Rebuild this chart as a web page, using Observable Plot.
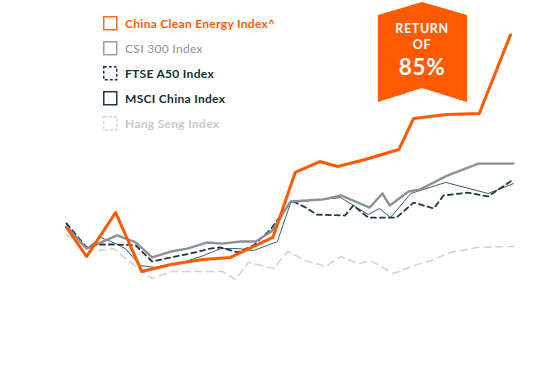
<!DOCTYPE html>
<html>
<head>
<meta charset="utf-8">
<script src="https://cdn.jsdelivr.net/npm/d3@7"></script>
<script src="https://cdn.jsdelivr.net/npm/@observablehq/plot@0.6"></script>
<style>
  html, body { margin: 0; padding: 0; background: #fff; }
  #wrap { position: relative; width: 548px; height: 388px; overflow: hidden; font-family: Lato, "Open Sans", sans-serif; }
  #chart { position: absolute; left: 0; top: 0; }
  #legend { position: absolute; left: 103px; top: 11px; }
  .item { display: flex; align-items: center; height: 25px; font-size: 12px; font-weight: 700; letter-spacing: 0.3px; }
  .sw { display: block; margin-right: 7px; flex: none; }
  #badge { position: absolute; left: 0; top: 0; }
</style>
</head>
<body>
<div id="wrap">
  <div id="chart"></div>
  <div id="legend"></div>
  <svg id="badge" width="548" height="120"></svg>
</div>
<script>
// Series names
const seriesNames = ["China Clean Energy Index^", "CSI 300 Index", "FTSE A50 Index", "MSCI China Index", "Hang Seng Index"];

// China Clean Energy Index^ (time in months, index value)
const cleanT = [0, 2.7, 6.6, 10.1, 14.0, 18.3, 22.0, 27.7, 30.7, 34.0, 36.4, 40.1, 44.6, 46.6, 51.0, 55.4, 59.6];
const cleanV = [100.0, 87.2, 106.6, 80.6, 83.7, 85.9, 86.8, 95.6, 124.3, 129.1, 126.9, 130.0, 134.4, 148.1, 149.9, 150.3, 185.0];

// CSI 300 Index
const csiT = [0, 2.7, 6.8, 9.3, 11.5, 14.0, 16.2, 18.9, 20.9, 23.4, 25.4, 27.5, 30.1, 34.5, 36.9, 40.7, 42.4, 43.4, 45.9, 47.5, 51.1, 55.3, 60];
const csiV = [100.4, 90.7, 96.5, 93.4, 86.8, 89.4, 90.7, 93.4, 92.9, 93.8, 93.8, 98.2, 111.5, 112.4, 114.1, 108.8, 115.0, 109.7, 115.9, 116.8, 122.9, 128.2, 128.2];

// FTSE A50 Index
const ftseT = [0, 2.7, 4.3, 6.8, 9.3, 11.5, 14.0, 16.6, 19.3, 20.7, 23.0, 25.1, 27.4, 30.2, 32.1, 33.6, 37.4, 38.5, 40.5, 44.3, 46.6, 49.3, 50.6, 53.8, 56.6, 60];
const ftseV = [101.8, 91.2, 92.5, 92.5, 92.1, 85.0, 86.8, 88.5, 90.7, 91.2, 89.0, 92.1, 99.1, 111.9, 108.8, 105.7, 105.3, 109.7, 104.4, 104.4, 111.0, 108.4, 114.1, 115.4, 113.7, 121.2];

// MSCI China Index
const msciT = [0, 2.7, 4.6, 6.6, 7.9, 9.9, 11.9, 16.0, 18.4, 20.7, 23.1, 25.1, 28.3, 30.1, 36.8, 40.5, 42.0, 43.5, 46.2, 50.9, 56.6, 60];
const msciV = [101.3, 90.7, 95.6, 92.9, 90.7, 83.2, 82.4, 85.0, 87.6, 90.7, 90.7, 89.8, 93.8, 111.0, 113.2, 105.7, 108.4, 104.4, 115.0, 119.9, 115.0, 119.4];

// Hang Seng Index
const hsT = [0, 2.7, 4.3, 6.3, 9.7, 11.5, 14.0, 20.9, 22.7, 24.4, 27.8, 29.7, 32.1, 34.8, 36.8, 39.2, 40.8, 43.9, 46.6, 48.9, 51.5, 55.2, 60];
const hsV = [96.9, 91.2, 89.9, 90.7, 81.9, 77.5, 80.6, 80.6, 77.1, 84.6, 81.9, 89.4, 85.4, 82.8, 87.2, 84.1, 85.4, 79.7, 83.2, 85.4, 89.0, 91.2, 91.6];

const returnLabel = ["RETURN", "OF", "85%"];

const toRows = (T, V) => T.map((t, i) => ({t, v: V[i]}));

const colors = ["#ff5a00", "#8b9099", "#1b3a40", "#2c4a50", "#d3d3d3"];

const chart = Plot.plot({
  width: 548,
  height: 388,
  marginLeft: 66,
  marginRight: 35,
  marginTop: 23,
  marginBottom: 25,
  x: {domain: [0, 60], axis: null},
  y: {domain: [40, 190], axis: null},
  marks: [
    Plot.line(toRows(hsT, hsV), {x: "t", y: "v", stroke: colors[4], strokeWidth: 1.6, strokeDasharray: "7,5"}),
    Plot.line(toRows(msciT, msciV), {x: "t", y: "v", stroke: "#3f5e64", strokeWidth: 1}),
    Plot.line(toRows(ftseT, ftseV), {x: "t", y: "v", stroke: colors[2], strokeWidth: 1.8, strokeDasharray: "5,4"}),
    Plot.line(toRows(csiT, csiV), {x: "t", y: "v", stroke: colors[1], strokeWidth: 2.4}),
    Plot.line(toRows(cleanT, cleanV), {x: "t", y: "v", stroke: colors[0], strokeWidth: 3})
  ]
});
document.getElementById("chart").appendChild(chart);

// Legend
const legendStyles = [
  {dash: null, bc: "#ff6a1a", color: "#ff5a00", weight: 700},
  {dash: null, bc: "#9a9fa6", color: "#8b9099", weight: 400},
  {dash: "3,2", bc: "#1b3a40", color: "#0f2f35", weight: 700},
  {dash: null, bc: "#1b3a40", color: "#0f2f35", weight: 700},
  {dash: "3,2", bc: "#d3d3d3", color: "#c8c8c8", weight: 700}
];
const legend = d3.select("#legend");
seriesNames.forEach((name, i) => {
  const st = legendStyles[i];
  const row = legend.append("div").attr("class", "item");
  const sw = row.append("svg").attr("class", "sw").attr("width", 15).attr("height", 15);
  sw.append("rect").attr("x", 0.75).attr("y", 0.75).attr("width", 13).attr("height", 13)
    .attr("fill", "none").attr("stroke", st.bc).attr("stroke-width", 1.5)
    .attr("stroke-dasharray", st.dash);
  row.append("span").text(name).style("color", st.color).style("font-weight", st.weight);
});

// Badge
const badge = d3.select("#badge");
badge.append("polygon")
  .attr("points", "378,15 422,2 467,15 467,102 422,88 378,102")
  .attr("fill", "#ff5a00");
const badgeText = [
  {y: 33, size: 12.5},
  {y: 48.5, size: 12.5},
  {y: 74.5, size: 22.5}
];
badgeText.forEach((b, i) => {
  badge.append("text").attr("x", 422).attr("y", b.y).attr("text-anchor", "middle")
    .attr("fill", "#fff").attr("font-family", "Lato, sans-serif").attr("font-weight", 700)
    .attr("font-size", b.size).attr("letter-spacing", 0.6).text(returnLabel[i]);
});
</script>
</body>
</html>
